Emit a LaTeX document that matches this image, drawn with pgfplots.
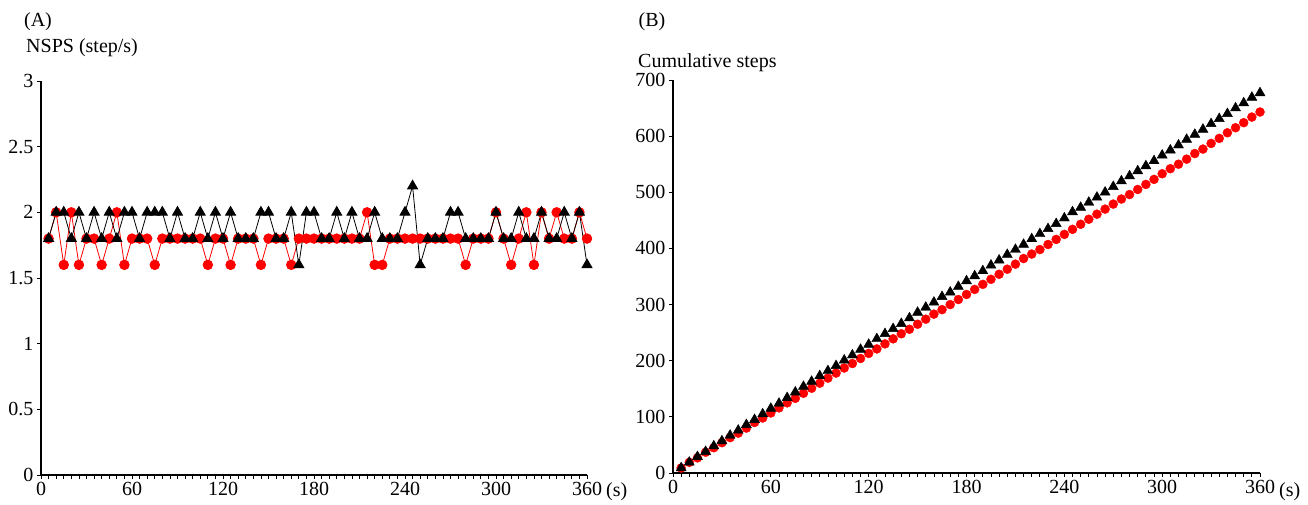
\documentclass[border=0pt]{standalone}
\usepackage{fontspec}
\setmainfont{Liberation Serif}
\usepackage{pgfplots}
\usepackage{pgfplotstable}
\pgfplotsset{compat=1.18}

% NSPS (step/s) every 5 s
\pgfplotstableread{
t  blk red
5   1.8 1.8
10  2.0 2.0
15  2.0 1.6
20  1.8 2.0
25  2.0 1.6
30  1.8 1.8
35  2.0 1.8
40  1.8 1.6
45  2.0 1.8
50  1.8 2.0
55  2.0 1.6
60  2.0 1.8
65  1.8 1.8
70  2.0 1.8
75  2.0 1.6
80  2.0 1.8
85  1.8 1.8
90  2.0 1.8
95  1.8 1.8
100 1.8 1.8
105 2.0 1.8
110 1.8 1.6
115 2.0 1.8
120 1.8 1.8
125 2.0 1.6
130 1.8 1.8
135 1.8 1.8
140 1.8 1.8
145 2.0 1.6
150 2.0 1.8
155 1.8 1.8
160 1.8 1.8
165 2.0 1.6
170 1.6 1.8
175 2.0 1.8
180 2.0 1.8
185 1.8 1.8
190 1.8 1.8
195 2.0 1.8
200 1.8 1.8
205 2.0 1.8
210 1.8 1.8
215 1.8 2.0
220 2.0 1.6
225 1.8 1.6
230 1.8 1.8
235 1.8 1.8
240 2.0 1.8
245 2.2 1.8
250 1.6 1.8
255 1.8 1.8
260 1.8 1.8
265 1.8 1.8
270 2.0 1.8
275 2.0 1.8
280 1.8 1.6
285 1.8 1.8
290 1.8 1.8
295 1.8 1.8
300 2.0 2.0
305 1.8 1.8
310 1.8 1.6
315 2.0 1.8
320 1.8 2.0
325 1.8 1.6
330 2.0 2.0
335 1.8 1.8
340 1.8 2.0
345 2.0 1.8
350 1.8 1.8
355 2.0 2.0
360 1.6 1.8
}\nsps

% cumulative steps
\pgfplotstableread{
t  blk red
5   9   9
10  19  19
15  29  27
20  38  37
25  48  45
30  57  54
35  67  63
40  76  71
45  86  80
50  95  90
55  105 98
60  115 107
65  124 116
70  134 125
75  144 133
80  154 142
85  163 151
90  173 160
95  182 169
100 191 178
105 201 187
110 210 195
115 220 204
120 229 213
125 239 221
130 248 230
135 257 239
140 266 248
145 276 256
150 286 265
155 295 274
160 304 283
165 314 291
170 322 300
175 332 309
180 342 318
185 351 327
190 360 336
195 370 345
200 379 354
205 389 363
210 398 372
215 407 382
220 417 390
225 426 398
230 435 407
235 444 416
240 454 425
245 465 434
250 473 443
255 482 452
260 491 461
265 500 470
270 510 479
275 520 488
280 529 496
285 538 505
290 547 514
295 556 523
300 566 533
305 575 542
310 584 550
315 594 559
320 603 569
325 612 577
330 622 587
335 631 596
340 640 606
345 650 615
350 659 624
355 669 634
360 677 643
}\cumul

\pgfplotsset{
  panel/.style={
    scale only axis,
    axis x line=bottom, axis y line=left,
    axis line style={-, line width=1.3pt},
    xmin=0, xmax=360, xtick={0,60,...,360}, minor x tick num=11,
    tick align=outside,
    major tick length=4pt, minor tick length=4pt,
    tick style={black, line width=0.8pt},
    minor tick style={black, line width=0.8pt},
    tick label style={font=\fontsize{20}{22}\selectfont},
    /pgf/number format/assume math mode=true,
    clip=false,
  },
}
\newcommand{\lab}{\fontsize{20}{22}\selectfont}

\begin{document}
\begin{tikzpicture}
\useasboundingbox (0,0) rectangle (1308pt,504pt);

% (A)
\begin{axis}[panel, at={(41pt,29pt)}, anchor=south west,
    width=546pt, height=394pt,
    ymin=0, ymax=3, ytick={0,0.5,1,1.5,2,2.5,3}]
\addplot[red, line width=0.8pt, mark=*, mark size=4.8pt,
    mark options={solid, fill=red, draw=red}] table[x=t, y=red] {\nsps};
\addplot[black, line width=0.8pt, mark=triangle*, mark size=5.8pt,
    mark options={solid, fill=black}] table[x=t, y=blk] {\nsps};
\end{axis}

% (B)
\begin{axis}[panel, at={(673pt,31pt)}, anchor=south west,
    width=587pt, height=393pt,
    ymin=0, ymax=700, ytick={0,100,...,700}]
\addplot[only marks, mark=*, mark size=4.5pt,
    mark options={fill=red, draw=red}] table[x=t, y=red] {\cumul};
\addplot[only marks, mark=triangle*, mark size=5.8pt,
    mark options={fill=black, draw=black}] table[x=t, y=blk] {\cumul};
\end{axis}

\node[font=\lab] at (38pt,482pt) {(A)};
\node[font=\lab, anchor=west, inner sep=0pt] at (26pt,456pt) {NSPS (step/s)};
\node[font=\lab, anchor=west, inner sep=0pt] at (606pt,12pt) {(s)};
\node[font=\lab] at (652pt,482pt) {(B)};
\node[font=\lab, anchor=west, inner sep=0pt] at (638pt,441pt) {Cumulative steps};
\node[font=\lab, anchor=west, inner sep=0pt] at (1279pt,12pt) {(s)};
\end{tikzpicture}
\end{document}
